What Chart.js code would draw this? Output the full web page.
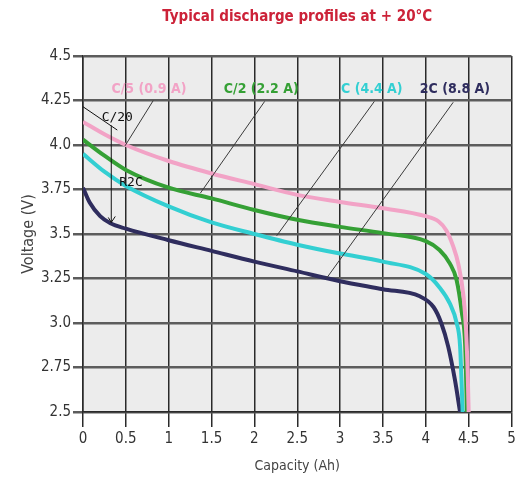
<!DOCTYPE html>
<html>
<head>
<meta charset="utf-8">
<script src="https://cdn.jsdelivr.net/npm/chart.js@4/dist/chart.umd.min.js"></script>
<style>
   html, body { margin: 0; padding: 0; background: #ffffff; }
   #wrap { width: 516px; height: 481px; }
</style>
</head>
<body>
<div id="wrap"><canvas id="chart1" width="516" height="481"></canvas></div>
<script>
const NARROW = "'Liberation Sans Narrow', 'DejaVu Sans Condensed', 'Roboto', sans-serif";

// discharge curves, capacity (Ah) / voltage (V)
const capC5 = [0, 0.25, 0.5, 1, 1.5, 2, 2.5, 3, 3.5, 4, 4.15, 4.24, 4.32, 4.38, 4.44, 4.47, 4.49, 4.5];
const voltC5 = [4.13, 4.06, 4.0, 3.91, 3.84, 3.78, 3.72, 3.68, 3.645, 3.6, 3.57, 3.52, 3.43, 3.33, 3.15, 2.96, 2.7, 2.5];

const capC2 = [0, 0.25, 0.5, 1, 1.5, 2, 2.5, 3, 3.5, 4, 4.16, 4.28, 4.36, 4.42, 4.46, 4.48];
const voltC2 = [4.03, 3.94, 3.86, 3.76, 3.7, 3.635, 3.58, 3.54, 3.505, 3.46, 3.41, 3.335, 3.24, 3.06, 2.87, 2.5];

const capC1 = [0, 0.25, 0.5, 1, 1.5, 2, 2.5, 3, 3.5, 4, 4.16, 4.28, 4.36, 4.4, 4.43];
const voltC1 = [3.95, 3.85, 3.77, 3.655, 3.565, 3.5, 3.44, 3.39, 3.345, 3.275, 3.2, 3.11, 3.0, 2.87, 2.5];

const cap2C = [0, 0.08, 0.2, 0.32, 0.5, 1, 1.5, 2, 2.5, 3, 3.5, 3.93, 4.09, 4.18, 4.26, 4.34, 4.4];
const volt2C = [3.76, 3.675, 3.6, 3.56, 3.53, 3.465, 3.405, 3.345, 3.29, 3.235, 3.19, 3.15, 3.09, 3.0, 2.87, 2.68, 2.5];

const seriesNames = ["C/5 (0.9 A)", "C/2 (2.2 A)", "C (4.4 A)", "2C (8.8 A)"];
const seriesColors = ["#f2a3c6", "#35a035", "#33cfd2", "#2f2d5e"];

const capTicks = ["0", "0.5", "1", "1.5", "2", "2.5", "3", "3.5", "4", "4.5", "5"];
const voltTicks = ["2.5", "2.75", "3.0", "3.25", "3.5", "3.75", "4.0", "4.25", "4.5"];

// label anchor [x, y] and leader line [x1, y1, x2, y2], all in axis units
const labelAt = [[0.77, 4.31], [2.08, 4.31], [3.37, 4.31], [4.34, 4.31]];
const leaders = [
   [0.82, 4.25, 0.49, 3.995],
   [2.12, 4.245, 1.37, 3.73],
   [3.4, 4.245, 2.26, 3.49],
   [4.32, 4.24, 2.84, 3.25],
];

// pencilled notes near the start of the curves
const noteText = ["C/20", "R2C"];
const noteAt = [[0.4, 4.155], [0.56, 3.79]];
const noteStroke = [0, 4.215, 0.4, 4.084];
const noteArrow = [0.33, 4.11, 0.33, 3.565];

function toPoints(xs, ys) {
   return xs.map((x, i) => ({ x: x, y: ys[i] }));
}

const plotBackground = {
   id: "plotBackground",
   beforeDraw(chart) {
      const { ctx, chartArea } = chart;
      ctx.save();
      ctx.fillStyle = "#ececec";
      ctx.fillRect(chartArea.left, chartArea.top, chartArea.right - chartArea.left, chartArea.bottom - chartArea.top);
      ctx.restore();
   }
};

const callouts = {
   id: "callouts",
   afterDatasetsDraw(chart) {
      const { ctx } = chart;
      const sx = chart.scales.x;
      const sy = chart.scales.y;
      ctx.save();

      ctx.strokeStyle = "#3a3a3a";
      ctx.lineWidth = 1;
      for (const l of leaders) {
         ctx.beginPath();
         ctx.moveTo(sx.getPixelForValue(l[0]), sy.getPixelForValue(l[1]));
         ctx.lineTo(sx.getPixelForValue(l[2]), sy.getPixelForValue(l[3]));
         ctx.stroke();
      }

      ctx.font = "bold 14px " + NARROW;
      ctx.textAlign = "center";
      ctx.textBaseline = "middle";
      for (let i = 0; i < seriesNames.length; i++) {
         ctx.fillStyle = seriesColors[i];
         ctx.fillText(seriesNames[i], sx.getPixelForValue(labelAt[i][0]), sy.getPixelForValue(labelAt[i][1]));
      }

      // hand notes
      ctx.strokeStyle = "#111";
      ctx.beginPath();
      ctx.moveTo(sx.getPixelForValue(noteStroke[0]), sy.getPixelForValue(noteStroke[1]));
      ctx.lineTo(sx.getPixelForValue(noteStroke[2]), sy.getPixelForValue(noteStroke[3]));
      const ax = sx.getPixelForValue(noteArrow[0]);
      const ay = sy.getPixelForValue(noteArrow[3]);
      ctx.moveTo(ax, sy.getPixelForValue(noteArrow[1]));
      ctx.lineTo(ax, ay);
      ctx.moveTo(ax - 3, ay - 5);
      ctx.lineTo(ax, ay);
      ctx.lineTo(ax + 4, ay - 6);
      ctx.stroke();

      ctx.fillStyle = "#111";
      ctx.font = "13px 'DejaVu Sans Mono', monospace";
      for (let i = 0; i < noteText.length; i++) {
         ctx.fillText(noteText[i], sx.getPixelForValue(noteAt[i][0]), sy.getPixelForValue(noteAt[i][1]));
      }
      ctx.restore();
   }
};

function curve(xs, ys, i) {
   return {
      label: seriesNames[i],
      data: toPoints(xs, ys),
      borderColor: seriesColors[i],
      backgroundColor: seriesColors[i],
      borderWidth: 4,
      pointRadius: 0,
      fill: false,
      cubicInterpolationMode: "monotone",
   };
}

const canva = document.querySelector("#chart1");
const chart = new Chart(canva, {
   type: "line",
   data: {
      datasets: [
         curve(capC5, voltC5, 0),
         curve(capC2, voltC2, 1),
         curve(capC1, voltC1, 2),
         curve(cap2C, volt2C, 3),
      ]
   },
   options: {
      responsive: false,
      animation: false,
      layout: { padding: { top: 0, right: 0, left: 0, bottom: 0 } },
      plugins: {
         legend: { display: false },
         tooltip: { enabled: false },
         title: {
            display: true,
            fullSize: false,
            text: "Typical discharge profiles at + 20°C",
            color: "#cc2238",
            font: { size: 15, weight: "bold", family: NARROW },
            padding: { top: 8, bottom: 30 },
         }
      },
      scales: {
         x: {
            type: "linear",
            min: 0,
            max: 5,
            afterFit(scale) {
               scale.height = 69;
               scale.paddingRight = 4.5;
            },
            ticks: {
               stepSize: 0.5,
               color: "#333",
               font: { size: 15, family: NARROW },
               padding: 3,
               maxRotation: 0,
               callback: (v, i) => capTicks[i],
            },
            grid: {
               color: "#2a2a2a",
               lineWidth: 1.5,
               tickLength: 15,
               tickColor: "#2a2a2a",
            },
            border: { color: "#2a2a2a", width: 1.5 },
            title: {
               display: true,
               text: "Capacity (Ah)",
               color: "#444",
               font: { size: 14, family: NARROW },
               padding: { top: 0, bottom: 6 },
            }
         },
         y: {
            min: 2.5,
            max: 4.5,
            afterFit(scale) { scale.width = 83; },
            ticks: {
               stepSize: 0.25,
               color: "#333",
               font: { size: 15, family: NARROW },
               padding: 2,
               callback: (v, i) => voltTicks[i],
            },
            grid: {
               color: "#5c5c5c",
               lineWidth: 2.5,
               tickLength: 10,
               tickColor: "#5c5c5c",
            },
            border: { color: "#2a2a2a", width: 1.5 },
            title: {
               display: true,
               text: "Voltage (V)",
               color: "#444",
               font: { size: 16, family: NARROW },
               padding: { top: 19, bottom: 0 },
            }
         }
      }
   },
   plugins: [plotBackground, callouts]
});
</script>
</body>
</html>
